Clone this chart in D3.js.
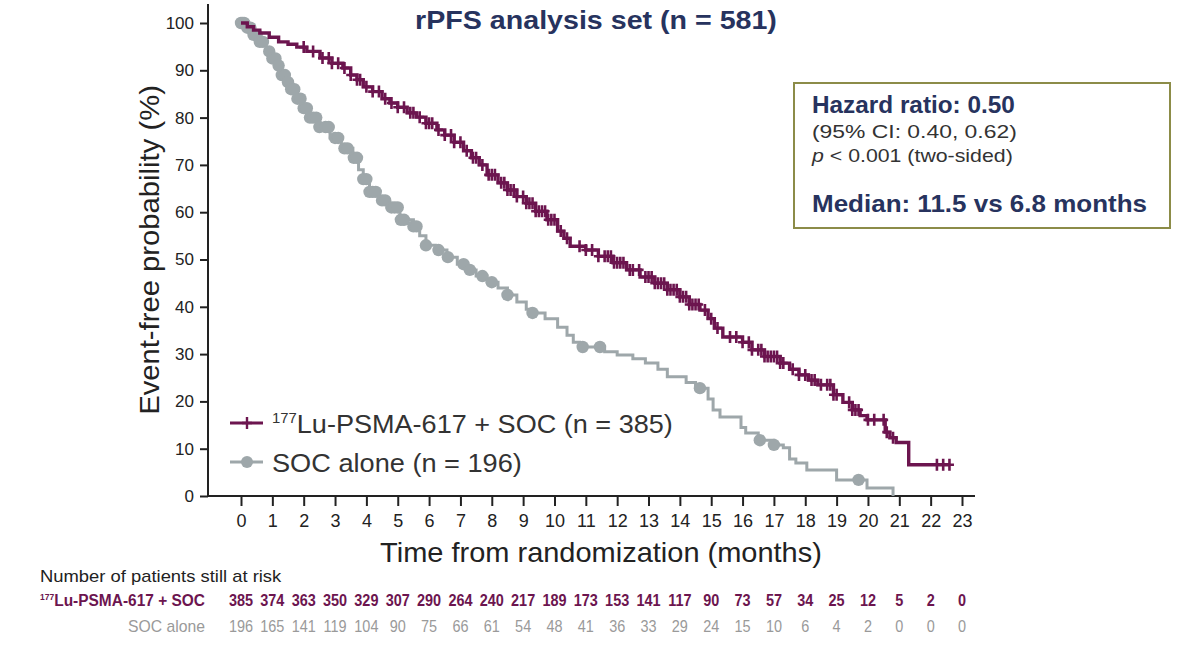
<!DOCTYPE html>
<html>
<head>
<meta charset="utf-8">
<script src="https://cdn.jsdelivr.net/npm/d3@7"></script>
<style>
  body { margin: 0; background: #fff; }
  text { font-family: "Liberation Sans", Arial, sans-serif; }
</style>
</head>
<body>
<div id="chart"></div>
<script>
// month ticks and at-risk tables
var months = d3.range(0, 24);
var riskLu  = [385, 374, 363, 350, 329, 307, 290, 264, 240, 217, 189, 173, 153, 141, 117, 90, 73, 57, 34, 25, 12, 5, 2, 0];
var riskSoc = [196, 165, 141, 119, 104, 90, 75, 66, 61, 54, 48, 41, 36, 33, 29, 24, 15, 10, 6, 4, 2, 0, 0, 0];
var yTicks = d3.range(0, 101, 10);

// Kaplan-Meier steps: [month, event-free %]
var luSteps = [
  [0,100],[0.2,99.2],[0.4,98.5],[0.6,97.9],[0.9,97],[1.2,96],[1.5,95.5],[1.78,94.9],[2.1,94],
  [2.52,92.6],[2.9,91.5],[3.25,90.5],[3.5,89],[3.7,88],[3.9,86.5],[4.2,85.5],[4.5,84],[4.75,83.1],
  [5.0,82.2],[5.3,81],[5.6,80.1],[5.9,78.8],[6.25,77.4],[6.5,76.3],[6.8,74.8],[7.1,73],[7.35,71.5],
  [7.6,70],[7.85,67.9],[8.2,66.2],[8.5,64.7],[8.8,63.3],[9.1,61.9],[9.4,60.2],[9.76,58.4],[10.1,56],
  [10.3,54.5],[10.5,52.8],[11.0,52],[11.4,50.7],[11.87,49.3],[12.3,47.8],[12.73,46.3],[13.2,45],
  [13.6,43.6],[14.0,42.1],[14.3,40.5],[14.64,39.3],[14.9,37.5],[15.1,35.5],[15.37,33.6],[16.0,32.5],
  [16.3,30.9],[16.7,29.5],[17.2,28.1],[17.5,26.8],[17.8,25.6],[18.1,24.5],[18.4,23.5],[18.9,21.4],
  [19.2,19.8],[19.5,18.2],[19.75,17],[19.97,16.1],[20.55,13.5],[20.7,12.3],[20.9,11.3],[21.3,6.6]
];
var luEnd = 22.6;
var luCensor = [2.0,2.3,2.6,2.8,2.9,3.1,3.3,3.5,3.7,3.8,4.0,4.2,4.4,4.6,4.8,5.0,5.2,5.4,5.5,5.7,5.9,6.0,
  6.1,6.3,6.5,6.7,6.8,7.0,7.2,7.4,7.5,7.7,7.9,8.0,8.1,8.3,8.4,8.5,8.6,8.7,8.8,9.0,9.1,9.2,9.3,9.4,9.5,
  9.6,9.7,9.8,9.9,10.0,10.2,10.4,10.8,11.0,11.2,11.4,11.6,11.7,11.8,11.9,12.0,12.1,12.2,12.4,12.5,12.7,
  12.9,13.0,13.1,13.2,13.3,13.4,13.5,13.6,13.7,13.8,13.9,14.0,14.1,14.2,14.3,14.4,14.5,14.6,14.8,15.0,
  15.2,15.6,15.8,16.0,16.2,16.3,16.5,16.6,16.7,16.8,16.9,17.0,17.1,17.2,17.3,17.6,17.8,18.0,18.2,18.3,
  18.5,18.7,18.8,18.9,19.0,19.4,19.5,19.6,19.7,20.0,20.2,20.5,20.6,20.8,22.2,22.4,22.6];

var socSteps = [
  [0,100],[0.2,99],[0.4,97.5],[0.6,96],[0.8,94],[1.0,92.5],[1.15,91],[1.3,89],[1.47,87.5],[1.6,86],
  [1.78,84],[2.0,82],[2.2,80],[2.5,78],[2.84,75.7],[3.2,73.5],[3.57,71.5],[3.75,69],[3.9,67],[4.1,64.3],
  [4.4,62.5],[4.66,61],[5.07,58.4],[5.5,57],[5.7,55],[5.9,53],[6.2,52],[6.57,50.5],[6.9,49],[7.2,47.8],
  [7.5,46.5],[7.85,45.2],[8.2,44],[8.5,42.5],[8.8,41],[9.1,39.5],[9.3,38.7],[9.7,37.5],[10.1,35.7],
  [10.4,34],[10.6,32.5],[10.8,31.5],[11.6,30.5],[12.0,29.8],[12.5,29],[12.9,28.1],[13.3,26.8],
  [13.6,25.2],[14.2,24],[14.5,22.8],[14.9,20.5],[15.06,18.2],[15.28,16.7],[15.95,14.5],[16.1,13.3],
  [16.5,11.8],[17.0,10.8],[17.3,10.2],[17.5,7.8],[17.7,7.0],[18.05,5.5],[19.0,3.4],[19.97,1.7],[20.8,0]
];
var socEnd = 20.8;
var socCensor = [0,0.05,0.1,0.2,0.3,0.4,0.5,0.6,0.7,0.9,1.0,1.1,1.2,1.3,1.4,1.5,1.6,1.7,1.8,1.9,2.0,2.1,
  2.2,2.3,2.4,2.5,2.7,2.8,3.0,3.1,3.3,3.4,3.6,3.7,3.9,4.0,4.1,4.2,4.3,4.5,4.6,4.8,4.9,5.0,5.1,5.2,5.5,
  5.6,5.9,6.3,6.6,7.1,7.3,7.7,8.0,8.5,9.3,10.9,11.45,14.64,16.55,17.0,19.7];

var width = 1200, height = 650;
var purple = "#6c154f", gray = "#9ea7aa", navy = "#27335e", riskGray = "#9a9a9a";

var svg = d3.select("#chart").append("svg")
  .attr("width", width).attr("height", height);

var x = d3.scaleLinear().domain([0, 23]).range([241, 962]);
var y = d3.scaleLinear().domain([0, 100]).range([496, 23]);

// text stretched horizontally to the reference's width
function label(px, py, str, size, w, opts) {
  opts = opts || {};
  var g = svg.append("g").attr("transform", "translate(" + px + "," + py + ")" + (opts.rotate ? " rotate(-90)" : ""));
  var t = g.append("text").attr("text-anchor", opts.anchor || "start")
    .attr("fill", opts.fill || "#222").style("font-size", size + "px")
    .style("font-weight", opts.bold ? "bold" : "normal");
  if (opts.parts) {
    opts.parts.forEach(function(p) {
      var ts = t.append("tspan").text(p.text);
      if (p.sup) ts.attr("dy", -size * 0.38).style("font-size", (size * 0.55) + "px");
      if (p.down) ts.attr("dy", size * 0.38);
      if (p.italic) ts.style("font-style", "italic");
    });
  } else {
    t.text(str);
  }
  if (w) {
    var k = w / t.node().getBBox().width;
    t.attr("transform", "scale(" + k + ",1)");
  }
  return t;
}

// axes
var gx = svg.append("g").attr("transform", "translate(0,496)")
  .call(d3.axisBottom(x).tickValues(months).tickSize(10).tickPadding(8).tickFormat(d3.format("d")));
gx.select(".domain").attr("d", "M208,0H975");
var gy = svg.append("g").attr("transform", "translate(208,0)")
  .call(d3.axisLeft(y).tickValues(yTicks).tickSize(8).tickPadding(6));
gy.select(".domain").attr("d", "M0,4V496");
svg.selectAll(".domain, .tick line").attr("stroke", "#222").attr("stroke-width", 2);
svg.selectAll(".tick text").attr("fill", "#222")
  .style("font-family", "'Liberation Sans', Arial, sans-serif").style("font-size", "17px");
gx.selectAll(".tick text").style("font-size", "18px");

// KM step lines
function stepPath(steps, end) {
  var pts = steps.slice();
  pts.push([end, steps[steps.length - 1][1]]);
  return d3.line().curve(d3.curveStepAfter).x(d => x(d[0])).y(d => y(d[1]))(pts);
}
function survAt(steps, t) {
  var v = steps[0][1];
  steps.forEach(function(s) { if (s[0] <= t) v = s[1]; });
  return v;
}

svg.append("path").attr("d", stepPath(socSteps, socEnd))
  .attr("fill", "none").attr("stroke", gray).attr("stroke-width", 3);
svg.selectAll(".soc-c").data(socCensor).enter().append("circle")
  .attr("cx", d => x(d)).attr("cy", d => y(survAt(socSteps, d)))
  .attr("r", 6.2).attr("fill", gray);

svg.append("path").attr("d", stepPath(luSteps, luEnd))
  .attr("fill", "none").attr("stroke", purple).attr("stroke-width", 3.4);
svg.selectAll(".lu-c").data(luCensor).enter().append("path")
  .attr("d", function(d) {
    var cx = x(d), cy = y(survAt(luSteps, d));
    return "M" + (cx - 4.5) + "," + cy + "H" + (cx + 4.5) + "M" + cx + "," + (cy - 6) + "V" + (cy + 6);
  })
  .attr("stroke", purple).attr("stroke-width", 2.6);

// title
label(596, 29, "rPFS analysis set (n = 581)", 25, 362, { anchor: "middle", bold: true, fill: navy });

// axis titles
label(601, 562, "Time from randomization (months)", 27, 442, { anchor: "middle" });
label(159, 250, "Event-free probability (%)", 27, 330, { anchor: "middle", rotate: true });

// hazard ratio box
svg.append("rect").attr("x", 794).attr("y", 83).attr("width", 376).attr("height", 145)
  .attr("fill", "#fff").attr("stroke", "#8c8c48").attr("stroke-width", 2);
label(812, 113, "Hazard ratio: 0.50", 24.5, 203, { bold: true, fill: navy });
label(812, 138, "(95% CI: 0.40, 0.62)", 18, 205, { fill: "#333" });
label(812, 162, null, 18, 202, { fill: "#333", parts: [{ text: "p", italic: true }, { text: " < 0.001 (two-sided)" }] });
label(812, 212, "Median: 11.5 vs 6.8 months", 24.5, 335, { bold: true, fill: navy });

// legend
svg.append("line").attr("x1", 230).attr("x2", 263).attr("y1", 423).attr("y2", 423)
  .attr("stroke", purple).attr("stroke-width", 3);
svg.append("path").attr("d", "M242,423H252M247,417V429").attr("stroke", purple).attr("stroke-width", 2.4);
label(272, 433, null, 26, 401, { fill: "#333", parts: [{ text: "177", sup: true }, { text: "Lu-PSMA-617 + SOC (n = 385)", down: true }] });
svg.append("line").attr("x1", 230).attr("x2", 263).attr("y1", 462).attr("y2", 462)
  .attr("stroke", gray).attr("stroke-width", 3);
svg.append("circle").attr("cx", 247).attr("cy", 462).attr("r", 6).attr("fill", gray);
label(272, 472, "SOC alone (n = 196)", 26, 250, { fill: "#333" });

// at-risk table
label(40, 582, "Number of patients still at risk", 17, 242, { fill: "#222" });
label(205, 606, null, 17, 165, { anchor: "end", fill: purple, bold: true,
  parts: [{ text: "177", sup: true }, { text: "Lu-PSMA-617 + SOC", down: true }] });
label(205, 632, "SOC alone", 17, 77, { anchor: "end", fill: riskGray });

svg.selectAll(".rlu").data(riskLu).enter().append("text")
  .attr("transform", (d, i) => "translate(" + x(months[i]) + ",606) scale(0.85,1)")
  .attr("text-anchor", "middle").attr("fill", purple)
  .style("font-size", "17px").style("font-weight", "bold").text(d => d);
svg.selectAll(".rsoc").data(riskSoc).enter().append("text")
  .attr("transform", (d, i) => "translate(" + x(months[i]) + ",632) scale(0.85,1)")
  .attr("text-anchor", "middle").attr("fill", riskGray)
  .style("font-size", "17px").text(d => d);
</script>
</body>
</html>
